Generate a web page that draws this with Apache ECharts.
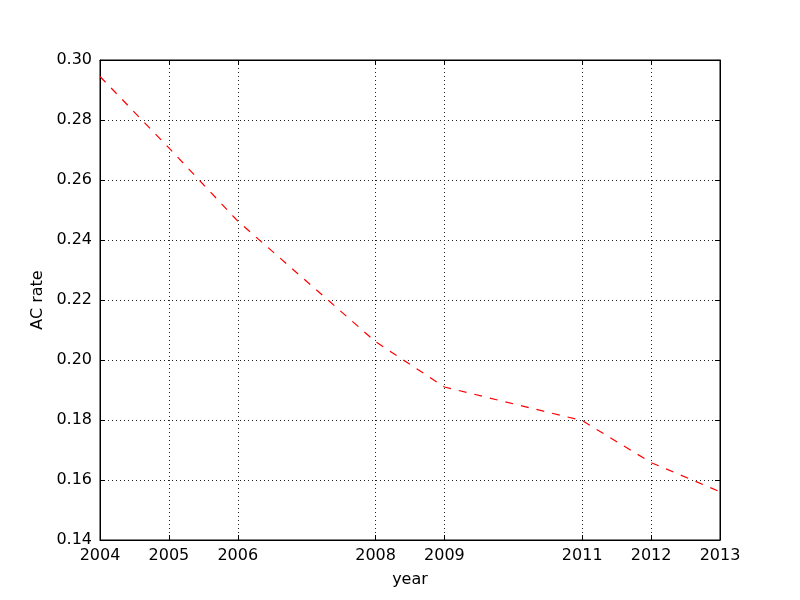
<!DOCTYPE html>
<html><head><meta charset="utf-8">
<script src="https://cdn.jsdelivr.net/npm/echarts@6/dist/echarts.min.js"></script>
<style>html,body{margin:0;padding:0;background:#fff}#c{width:800px;height:600px}</style>
</head><body><div id="c"></div>
<script>
const years = [2004, 2005, 2006, 2008, 2009, 2011, 2012, 2013];
const acRate = [0.2945, 0.2707, 0.2463, 0.2061, 0.1910, 0.1798, 0.1658, 0.1561];
const yTicks = [0.14, 0.16, 0.18, 0.20, 0.22, 0.24, 0.26, 0.28, 0.30];

const font = 'DejaVu Sans';
const chart = echarts.init(document.getElementById('c'), null, {renderer: 'canvas'});
const tickStyle = {show: true, inside: true, length: 5, lineStyle: {color: '#000', width: 1}};
const gridLine = {show: true, lineStyle: {color: '#222', type: [1, 3], width: 1}};
chart.setOption({
  animation: false,
  grid: {left: 100, right: 80, top: 60, bottom: 60, show: true, borderColor: '#000', borderWidth: 1, backgroundColor: 'transparent'},
  xAxis: [{
    type: 'value', min: 2004, max: 2013, position: 'bottom',
    name: 'year', nameLocation: 'middle', nameGap: 32,
    nameTextStyle: {fontFamily: font, fontSize: 16, color: '#000'},
    axisLine: {show: true, lineStyle: {color: '#000'}},
    axisTick: Object.assign({customValues: years}, tickStyle),
    axisLabel: {customValues: years, fontFamily: font, fontSize: 16, color: '#000', margin: 8, formatter: v => String(v)},
    splitLine: gridLine
  }, {
    type: 'value', min: 2004, max: 2013, position: 'top',
    axisLine: {show: true, lineStyle: {color: '#000'}},
    axisTick: Object.assign({customValues: years}, tickStyle),
    axisLabel: {show: false, customValues: years},
    splitLine: {show: false}
  }],
  yAxis: [{
    type: 'value', min: 0.14, max: 0.30, interval: 0.02, position: 'left',
    name: 'AC rate', nameLocation: 'middle', nameGap: 49,
    nameTextStyle: {fontFamily: font, fontSize: 16, color: '#000'},
    axisLine: {show: true, lineStyle: {color: '#000'}},
    axisTick: tickStyle,
    axisLabel: {fontFamily: font, fontSize: 16, color: '#000', margin: 8, formatter: v => v.toFixed(2)},
    splitLine: gridLine
  }, {
    type: 'value', min: 0.14, max: 0.30, interval: 0.02, position: 'right',
    axisLine: {show: true, lineStyle: {color: '#000'}},
    axisTick: tickStyle,
    axisLabel: {show: false},
    splitLine: {show: false}
  }],
  series: [{
    type: 'line', xAxisIndex: 0, yAxisIndex: 0,
    data: years.map((y, i) => [y, acRate[i]]),
    showSymbol: false, symbol: 'none',
    lineStyle: {color: '#ff0000', width: 1.2, type: [8, 8]}
  }]
});
</script></body></html>
